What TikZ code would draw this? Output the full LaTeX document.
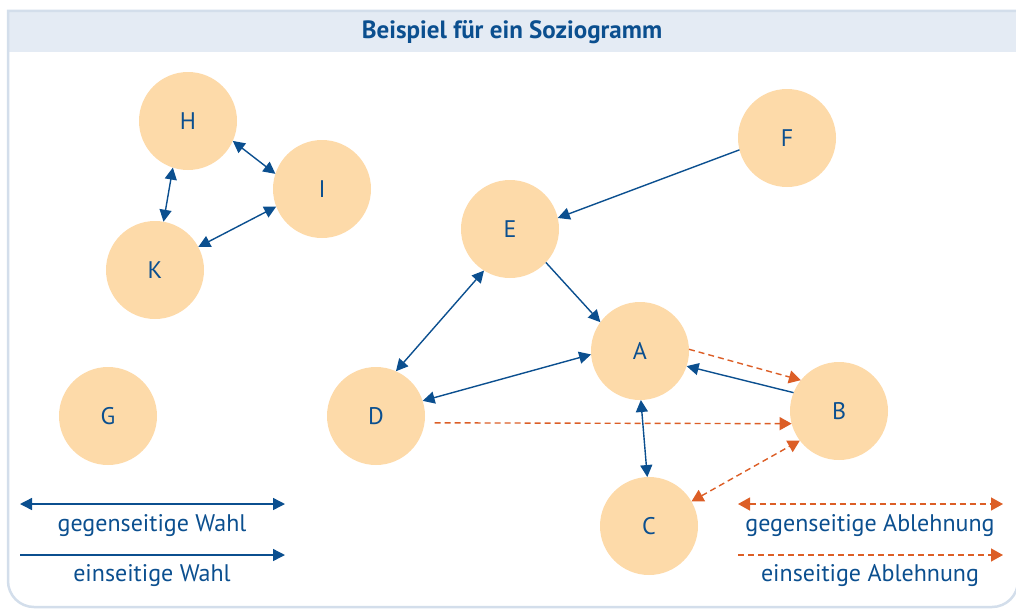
\documentclass[tikz,border=0pt]{standalone}
\usepackage{fontspec}
\setmainfont{PT Sans}
\usetikzlibrary{arrows.meta}
\definecolor{dblue}{HTML}{0B4F8F}
\definecolor{dorange}{HTML}{DC5E26}
\definecolor{peach}{HTML}{FDDAA9}
\definecolor{headfill}{HTML}{E4EBF4}
\definecolor{frameline}{HTML}{D3DEEB}
\tikzset{
  person/.style={circle, fill=peach, minimum size=98pt, inner sep=0pt, outer sep=0pt,
    text=dblue, font=\fontsize{24}{28}\selectfont},
  wahl/.style={draw=dblue, line width=1.4pt, -{Triangle[length=12pt,width=12pt]}},
  wahl2/.style={draw=dblue, line width=1.4pt, {Triangle[length=12pt,width=12pt]}-{Triangle[length=12pt,width=12pt]}},
  ablehn/.style={draw=dorange, line width=1.4pt, dash pattern=on 6pt off 4pt, -{Triangle[length=12pt,width=13pt]}},
  ablehn2/.style={draw=dorange, line width=1.4pt, dash pattern=on 6pt off 4pt, {Triangle[length=12pt,width=13pt]}-{Triangle[length=12pt,width=13pt]}},
  legtext/.style={text=dblue, font=\fontsize{24}{28}\selectfont, inner sep=0pt},
}
\begin{document}
\begin{tikzpicture}[x=1pt,y=-1pt]
\useasboundingbox (0,0) rectangle (1016,610);
% frame and header
\fill[headfill] (8,11) rectangle (1018,52);
\draw[frameline, line width=2.5pt] (8,300) -- (8,11) -- (1018,11) -- (1018,300)
  [rounded corners=26pt] -- (1018,607) -- (8,607) -- (8,300);
\node[text=dblue, font=\fontsize{25}{28}\selectfont\bfseries] (title) at (512,32) {Beispiel für ein Soziogramm};
% persons
\node[person] (H) at (188,121) {H};
\node[person] (I) at (322,189) {I};
\node[person] (K) at (155,270) {K};
\node[person] (G) at (108,416) {G};
\node[person] (E) at (510,229) {E};
\node[person] (F) at (787,138) {F};
\node[person] (A) at (640,351) {A};
\node[person] (D) at (376,416) {D};
\node[person] (B) at (839,411) {B};
\node[person] (C) at (649,526) {C};
% mutual choices
\draw[wahl2] (H.-24.5) -- (I.162.6);
\draw[wahl2] (H.252.6) -- (K.80.5);
\draw[wahl2] (I.201.4) -- (K.28.6);
\draw[wahl2] (E.238) -- (D.66.5);
\draw[wahl2] (D.18) -- (A.184.7);
\draw[wahl2] (A.271) -- (C.92);
% one-sided choices
\draw[wahl] (F.194.3) -- (E.13.8);
\draw[wahl] (E.-43.4) -- (A.144.7);
\draw[wahl] (B.158.8) -- (A.-18.8);
% rejections
\draw[ablehn] (A.2) -- (B.141.5);
\draw[ablehn, shorten <=10pt] (D.-8) -- (B.195.5);
\draw[ablehn2] (C.30) -- (B.217.8);
% legend
\coordinate (wl1) at (20,504); \coordinate (wr1) at (285,504);
\coordinate (wl2) at (20,555); \coordinate (wr2) at (285,555);
\coordinate (al1) at (738,504); \coordinate (ar1) at (1003,504);
\coordinate (al2) at (738,555); \coordinate (ar2) at (1003,555);
\draw[wahl2] (wl1) -- (wr1);
\draw[wahl] (wl2) -- (wr2);
\draw[ablehn2] (al1) -- (ar1);
\draw[ablehn] (al2) -- (ar2);
\node[legtext] (t1) at (152,526) {gegenseitige Wahl};
\node[legtext] (t2) at (152,576) {einseitige Wahl};
\node[legtext] (t3) at (870,526) {gegenseitige Ablehnung};
\node[legtext] (t4) at (870,576) {einseitige Ablehnung};
\end{tikzpicture}
\end{document}
